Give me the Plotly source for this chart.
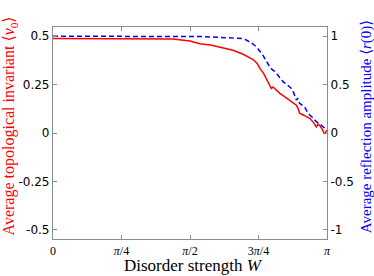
import plotly.graph_objects as go

# Disorder strength W in units of pi
w_red = [0, 0.30, 0.4375, 0.50, 0.536, 0.575, 0.609, 0.657, 0.694, 0.712, 0.730, 0.745, 0.755, 0.768,
         0.779, 0.790, 0.797, 0.803, 0.809, 0.818, 0.828, 0.845, 0.864, 0.876, 0.888, 0.895, 0.900,
         0.915, 0.937, 0.950, 0.961, 0.967, 0.973, 0.982, 0.991, 1.0]
nu_red = [0.488, 0.488, 0.486, 0.476, 0.462, 0.455, 0.445, 0.428, 0.407, 0.395, 0.380, 0.360, 0.334, 0.310,
          0.282, 0.255, 0.230, 0.238, 0.230, 0.215, 0.205, 0.188, 0.170, 0.158, 0.144, 0.125, 0.102,
          0.092, 0.076, 0.055, 0.032, 0.045, 0.041, 0.020, -0.005, 0.015]

w_blue = [0, 0.30, 0.536, 0.60, 0.65, 0.694, 0.705, 0.718, 0.730, 0.743, 0.752, 0.761, 0.767, 0.773,
          0.782, 0.791, 0.800, 0.808, 0.816, 0.828, 0.840, 0.850, 0.860, 0.870, 0.878, 0.888, 0.894,
          0.900, 0.910, 0.919, 0.928, 0.937, 0.948, 0.961, 0.972, 0.985, 1.0]
r_blue = [1.0, 1.0, 0.998, 0.99, 0.985, 0.976, 0.962, 0.941, 0.920, 0.890, 0.860, 0.822, 0.800, 0.770,
          0.720, 0.684, 0.655, 0.640, 0.615, 0.575, 0.529, 0.510, 0.480, 0.461, 0.420, 0.340, 0.360,
          0.306, 0.285, 0.265, 0.220, 0.186, 0.160, 0.117, 0.095, 0.065, 0.031]

x_tickvals = [0, 0.25, 0.5, 0.75, 1.0]
x_ticktext = ["0", "<i>π</i>/4", "<i>π</i>/2", "3<i>π</i>/4", "<i>π</i>"]
left_ticks = [0.5, 0.25, 0, -0.25, -0.5]
left_text = ["0.5", "0.25", "0", "-0.25", "-0.5"]
right_ticks = [1, 0.5, 0, -0.5, -1]
right_text = ["1", "0.5", "0", "-0.5", "-1"]

x_title = "Disorder strength <i>W</i>"
left_title = "Average topological invariant ⟨<i>ν</i><sub>0</sub>⟩"
right_title = "Average reflection amplitude ⟨<i>r</i>(0)⟩"

fig = go.Figure()
fig.add_trace(go.Scatter(x=w_red, y=nu_red, mode="lines",
                         line=dict(color="#ff0000", width=1.5), yaxis="y", showlegend=False))
fig.add_trace(go.Scatter(x=w_blue, y=r_blue, mode="lines",
                         line=dict(color="#0000ff", width=1.5, dash="5px,3px"), yaxis="y2", showlegend=False))

spine = "#8c8c8c"
serif = "Liberation Serif, DejaVu Serif, serif"
sans = "DejaVu Sans, sans-serif"

fig.update_layout(
    width=374, height=276,
    margin=dict(l=53, r=47, t=27, b=37, autoexpand=False),
    paper_bgcolor="white", plot_bgcolor="white",
    xaxis=dict(range=[0, 1], tickvals=x_tickvals, ticktext=x_ticktext, automargin=False,
               ticks="inside", ticklen=4, tickcolor=spine, showgrid=False, zeroline=False,
               showline=True, linecolor=spine, linewidth=1.2, mirror="ticks",
               tickfont=dict(family=serif, size=12, color="black")),
    yaxis=dict(range=[-0.548, 0.548], tickvals=left_ticks, ticktext=left_text, automargin=False,
               ticks="inside", ticklen=4, tickcolor=spine, showgrid=False, zeroline=False,
               showline=True, linecolor=spine, linewidth=1.2,
               tickfont=dict(family=sans, size=12, color="black")),
    yaxis2=dict(range=[-1.096, 1.096], tickvals=right_ticks, ticktext=right_text, automargin=False,
                overlaying="y", side="right",
                ticks="inside", ticklen=4, tickcolor=spine, showgrid=False, zeroline=False,
                showline=True, linecolor=spine, linewidth=1.2,
                tickfont=dict(family=sans, size=12, color="black")),
    annotations=[
        dict(text=x_title, xref="paper", yref="paper", x=0.511, y=-0.127, showarrow=False,
             xanchor="center", yanchor="middle", font=dict(family=serif, size=17, color="black")),
        dict(text=left_title, xref="paper", yref="paper", x=-0.159, y=0.533, showarrow=False,
             textangle=-90, xanchor="center", yanchor="middle",
             font=dict(family=serif, size=16, color="#ff0000")),
        dict(text=right_title, xref="paper", yref="paper", x=1.143, y=0.528, showarrow=False,
             textangle=-90, xanchor="center", yanchor="middle",
             font=dict(family=serif, size=15, color="#0000ff")),
    ],
)

fig.write_html("out.html", config={"displayModeBar": False},
               post_script="document.body.style.margin='0px';document.body.style.overflow='hidden';")
